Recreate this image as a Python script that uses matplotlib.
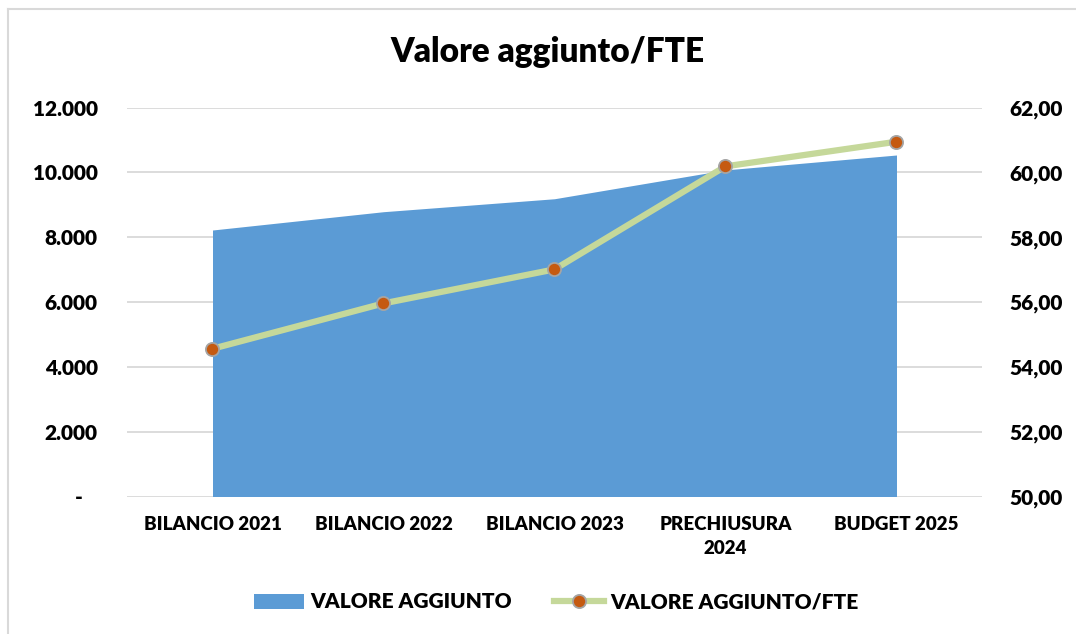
import matplotlib
matplotlib.use("Agg")
import matplotlib.pyplot as plt
from matplotlib.lines import Line2D
from matplotlib.patches import Patch

plt.rcParams['font.family'] = ['Lato', 'DejaVu Sans']
plt.rcParams['font.weight'] = 'bold'

categories = ["BILANCIO 2021", "BILANCIO 2022", "BILANCIO 2023", "PRECHIUSURA\n2024", "BUDGET 2025"]
valore_aggiunto = [8225, 8790, 9190, 10080, 10540]
valore_fte = [54.56, 55.96, 57.01, 60.19, 60.95]
left_ticks = [0, 2000, 4000, 6000, 8000, 10000, 12000]
left_labels = ["-   ", "2.000", "4.000", "6.000", "8.000", "10.000", "12.000"]
right_ticks = [50, 52, 54, 56, 58, 60, 62]
right_labels = ["50,00", "52,00", "54,00", "56,00", "58,00", "60,00", "62,00"]

W, H = 1076, 634
fig = plt.figure(figsize=(W / 100, H / 100), dpi=100)
fig.patch.set_facecolor('white')

# chart border (left & top visible)
fig.add_artist(Line2D([8 / W, 8 / W], [0, 1 - 9 / H], color='#D9D9D9', lw=1.5))
fig.add_artist(Line2D([8 / W, 1], [1 - 9 / H, 1 - 9 / H], color='#D9D9D9', lw=1.5))

ax = fig.add_axes([127 / W, 1 - 496.5 / H, (982 - 127) / W, (496.5 - 107.7) / H])
x = list(range(len(categories)))

ax.fill_between(x, 0, valore_aggiunto, color='#5B9BD5', lw=0, zorder=2)
ax.set_xlim(-0.5, len(categories) - 0.5)
ax.set_ylim(0, 12000)
ax.set_yticks(left_ticks)
ax.set_yticklabels(left_labels)
ax.grid(axis='y', color='#D9D9D9', lw=1.3, zorder=0)
ax.set_axisbelow(True)
for s in ax.spines.values():
    s.set_visible(False)
ax.tick_params(axis='y', length=0, pad=21, labelsize=15)
ax.set_xticks(x)
ax.set_xticklabels(categories, linespacing=1.5)
ax.tick_params(axis='x', length=0, pad=14, labelsize=13.5)
WT = 'heavy'
for lbl in ax.get_xticklabels() + ax.get_yticklabels():
    lbl.set_fontweight(WT)

ax2 = ax.twinx()
ax2.plot(x, valore_fte, color='#C5D89A', lw=4.5, marker='o', markersize=9.5,
         markerfacecolor='#C55A11', markeredgecolor='#A5A5A5', markeredgewidth=1.3,
         solid_capstyle='round', zorder=3)
ax2.set_ylim(50, 62)
ax2.set_yticks(right_ticks)
ax2.set_yticklabels(right_labels)
for s in ax2.spines.values():
    s.set_visible(False)
ax2.tick_params(axis='y', length=0, pad=20, labelsize=15)
for lbl in ax2.get_yticklabels():
    lbl.set_fontweight(WT)

fig.text(547 / W, 1 - 52 / H, "Valore aggiunto/FTE", ha='center', va='center',
         fontsize=24, fontweight=WT)

handles = [Patch(facecolor='#5B9BD5', edgecolor='none'),
           Line2D([0], [0], color='#C5D89A', lw=4.5, marker='o', markersize=9.5,
                  markerfacecolor='#C55A11', markeredgecolor='#A5A5A5', markeredgewidth=1.3)]
leg = fig.legend(handles, ["VALORE AGGIUNTO", "VALORE AGGIUNTO/FTE"], loc='center',
                 bbox_to_anchor=(556 / W, 1 - 602 / H), ncol=2, frameon=False,
                 prop={'size': 15, 'weight': WT}, handlelength=2.4, handleheight=0.7,
                 handletextpad=0.3, columnspacing=2.0)

fig.savefig("out.png", dpi=100, facecolor='white')
